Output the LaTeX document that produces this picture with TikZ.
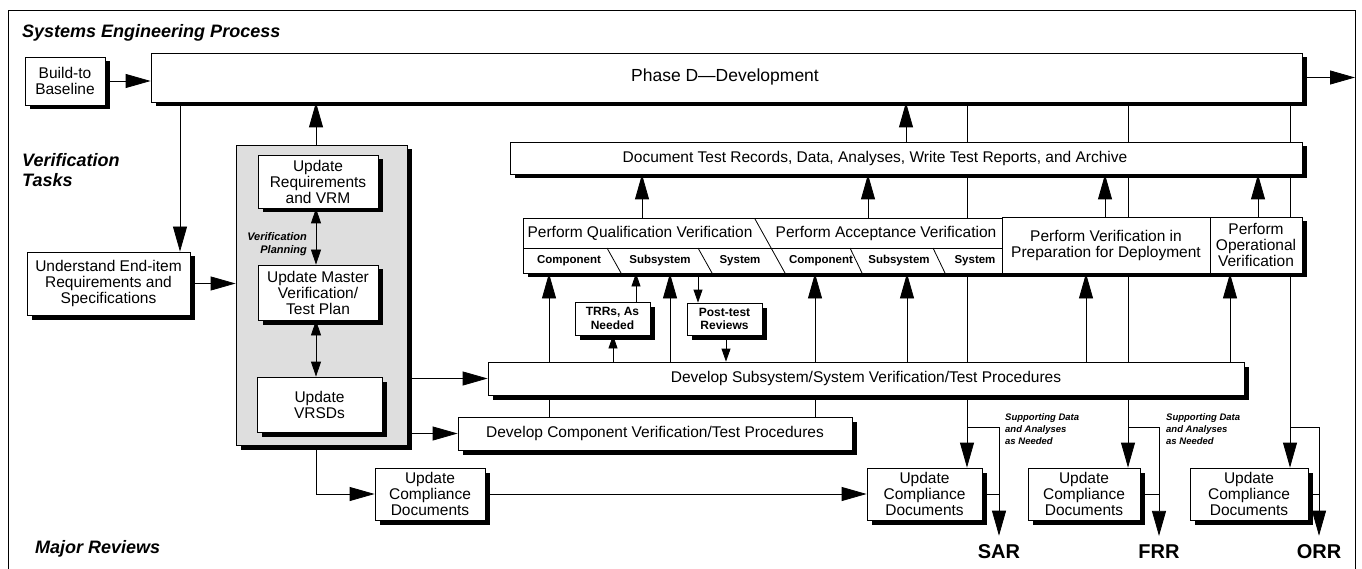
\documentclass[tikz,border=0pt]{standalone}
\usepackage{fontspec}
\setmainfont{Liberation Sans}
\usetikzlibrary{arrows.meta,shadows,backgrounds}
\newcommand\mainfs{\fontsize{15.5}{16}\selectfont}
\newcommand\bigfs{\fontsize{17.5}{18}\selectfont}
\newcommand\subfs{\fontsize{11.5}{13}\selectfont\bfseries}
\newcommand\smallbfs{\fontsize{12}{13.5}\selectfont\bfseries}
\newcommand\notefs{\fontsize{9.5}{12}\selectfont\bfseries\itshape}
\newcommand\vpfs{\fontsize{11}{13}\selectfont\bfseries\itshape}
\newcommand\ttlfs{\fontsize{18}{20}\selectfont\bfseries\itshape}
\newcommand\revfs{\fontsize{20}{22}\selectfont\bfseries}
\tikzset{
  box/.style={draw, line width=0.8pt, fill=white, inner sep=1pt, align=center, font=\mainfs,
    drop shadow={shadow xshift=4.5pt, shadow yshift=-4.5pt, fill=black, opacity=1}},
  ln/.style={line width=0.8pt},
  arr/.style={line width=0.8pt, -{Triangle[length=25pt,width=14pt]}},
  sarr/.style={line width=0.8pt, -{Triangle[length=13pt,width=9pt]}},
  dsarr/.style={line width=0.8pt, {Triangle[length=15pt,width=10pt]}-{Triangle[length=15pt,width=10pt]}},
  ttl/.style={font=\ttlfs, inner sep=0pt, anchor=west, align=left},
  rev/.style={font=\revfs, inner sep=0pt},
  note/.style={font=\notefs, inner sep=0pt, anchor=north west, align=left},
  sub/.style={font=\subfs, inner sep=0pt},
  txt/.style={font=\mainfs, inner sep=0pt}
}
\begin{document}
\begin{tikzpicture}[x=1pt,y=-1pt]
\useasboundingbox (0,0) rectangle (1362,569);
\draw[ln] (8,569) -- (8,10) -- (1355,10) -- (1355,569);

% titles
\node[ttl] (tsep) at (22,33) {Systems Engineering Process};
\node[ttl] (tvt) at (22,170) {Verification\\Tasks};
\node[ttl] (tmr) at (35,549) {Major Reviews};

% top row
\node[box, minimum width=80pt, minimum height=48pt] (build) at (65,81) {Build-to\\Baseline};
\node[box, minimum width=1151pt, minimum height=49pt] (phase) at (726.5,77.5) {};
\node[txt, font=\bigfs] (phtxt) at (725,77) {Phase D---Development};

% left
\node[box, minimum width=163pt, minimum height=63pt] (und) at (108.5,283.5) {Understand End-item\\Requirements and\\Specifications};

% verification planning panel
\node[box, fill=black!13, minimum width=171pt, minimum height=300pt] (panel) at (321.5,295) {};
\node[box, minimum width=120pt, minimum height=53pt] (ureq) at (318,181.5) {Update\\Requirements\\and VRM};
\node[box, minimum width=120pt, minimum height=55pt] (umas) at (318,292.5) {Update Master\\Verification/\\Test Plan};
\node[box, minimum width=125pt, minimum height=55pt] (uvrsd) at (319.5,404.5) {Update\\VRSDs};
\node[font=\vpfs, inner sep=0pt, anchor=east, align=right] (vp) at (307,244) {Verification\\Planning};

% document box
\node[box, minimum width=792pt, minimum height=32pt] (doc) at (906,158) {};
\node[txt] (doctxt) at (875,158) {Document Test Records, Data, Analyses, Write Test Reports, and Archive};

% qualification / acceptance
\node[box, minimum width=479pt, minimum height=55pt] (qa) at (762.5,245.5) {};
\draw[ln] (523,248) -- (1002,248);
\draw[ln] (755,219) -- (785,273);
\draw[ln] (607,248) -- (621,273);
\draw[ln] (698,248) -- (712,273);
\draw[ln] (850,248) -- (862,273);
\draw[ln] (933,248) -- (945,273);
\node[txt] (qtxt) at (640,233) {Perform Qualification Verification};
\node[txt] (atxt) at (886,233) {Perform Acceptance Verification};
\node[sub] (qc) at (569,261) {Component};
\node[sub] (qs) at (660,261) {Subsystem};
\node[sub] (qy) at (740,261) {System};
\node[sub] (ac) at (821,261) {Component};
\node[sub] (as) at (899,261) {Subsystem};
\node[sub] (ay) at (975,261) {System};
\node[box, minimum width=208pt, minimum height=56pt] (prep) at (1106,245) {Perform Verification in\\Preparation for Deployment};
\node[box, minimum width=92pt, minimum height=56pt] (oper) at (1256,245) {Perform\\Operational\\Verification};

% small review boxes
\node[box, font=\smallbfs, minimum width=75pt, minimum height=33pt] (trr) at (612.5,318.5) {TRRs, As\\Needed};
\node[box, font=\smallbfs, minimum width=75pt, minimum height=32pt] (post) at (724.5,319) {Post-test\\Reviews};

% procedures
\node[box, minimum width=756pt, minimum height=33pt] (dsub) at (866,378.5) {Develop Subsystem/System Verification/Test Procedures};
\node[box, minimum width=394pt, minimum height=33pt] (dcomp) at (655,433.5) {Develop Component Verification/Test Procedures};

% compliance documents
\node[box, minimum width=110pt, minimum height=52pt] (ucd1) at (430,494) {Update\\Compliance\\Documents};
\node[box, minimum width=115pt, minimum height=52pt] (ucd2) at (924.5,494) {Update\\Compliance\\Documents};
\node[box, minimum width=112pt, minimum height=52pt] (ucd3) at (1084,494) {Update\\Compliance\\Documents};
\node[box, minimum width=118pt, minimum height=52pt] (ucd4) at (1249,494) {Update\\Compliance\\Documents};

% reviews
\node[rev] (sar) at (999,552) {SAR};
\node[rev] (frr) at (1159,552) {FRR};
\node[rev] (orr) at (1319,552) {ORR};
\node[note] (sd1) at (1005,413) {Supporting Data\\and Analyses\\as Needed};
\node[note] (sd2) at (1166,413) {Supporting Data\\and Analyses\\as Needed};

% helper coordinates
\coordinate (xa) at (180,0);
\coordinate (xp) at (316,0);
\coordinate (xL1) at (967,0);
\coordinate (xL2) at (1128,0);
\coordinate (xL3) at (1290,0);
\coordinate (yb) at (0,427);
\coordinate (q1) at (642,0);
\coordinate (q2) at (868,0);
\coordinate (q3) at (1105,0);
\coordinate (q4) at (1258,0);
\coordinate (b1) at (549,0);
\coordinate (b2) at (670,0);
\coordinate (b3) at (815,0);
\coordinate (b4) at (907,0);
\coordinate (b5) at (1086,0);
\coordinate (b6) at (1230,0);
\coordinate (t1) at (613,0);
\coordinate (t2) at (636,0);
\coordinate (p1) at (698,0);
\coordinate (p2) at (726,0);
\coordinate (outR) at (1355,77.5);

% planning arrows (inside the grey panel, on top of it)
\draw[dsarr] (xp |- ureq.south) -- (xp |- umas.north);
\draw[dsarr] (xp |- umas.south) -- (xp |- uvrsd.north);

\begin{scope}[on background layer]
\draw[arr] (build.east) -- (build.east -| phase.west);
\draw[arr] (phase.east) -- (outR);
\draw[arr] (xa |- phase.south) -- (xa |- und.north);
\draw[arr] (und.east) -- (und.east -| panel.west);
\draw[arr] (xp |- panel.north) -- (xp |- phase.south);
\draw[arr] (panel.east |- dsub.west) -- (dsub.west);
\draw[arr] (panel.east |- dcomp.west) -- (dcomp.west);
\draw[arr] (xp |- panel.south) |- (ucd1.west);
\draw[arr] (ucd1.east) -- (ucd2.west);
\draw[arr] (doc.north) -- (doc.north |- phase.south);
% through lines to reviews
\draw[arr] (xL1 |- phase.south) -- (xL1 |- ucd2.north);
\draw[arr, shorten >=9pt] (xL1 |- yb) -| (sar.north);
\draw[ln] (ucd2.east) -- (ucd2.east -| sar.north);
\draw[arr] (xL2 |- phase.south) -- (xL2 |- ucd3.north);
\draw[arr, shorten >=9pt] (xL2 |- yb) -| (frr.north);
\draw[ln] (ucd3.east) -- (ucd3.east -| frr.north);
\draw[arr] (xL3 |- phase.south) -- (xL3 |- ucd4.north);
\draw[arr, shorten >=9pt] (xL3 |- yb) -| (orr.north);
\draw[ln] (ucd4.east) -- (ucd4.east -| orr.north);
% verification to document
\draw[arr] (q1 |- qa.north) -- (q1 |- doc.south);
\draw[arr] (q2 |- qa.north) -- (q2 |- doc.south);
\draw[arr] (q3 |- prep.north) -- (q3 |- doc.south);
\draw[arr] (q4 |- oper.north) -- (q4 |- doc.south);
% procedures to verification
\draw[arr] (b1 |- dcomp.north) -- (b1 |- qa.south);
\draw[arr] (b2 |- dsub.north) -- (b2 |- qa.south);
\draw[arr] (b3 |- dcomp.north) -- (b3 |- qa.south);
\draw[arr] (b4 |- dsub.north) -- (b4 |- qa.south);
\draw[arr] (b5 |- dsub.north) -- (b5 |- prep.south);
\draw[arr] (b6 |- dsub.north) -- (b6 |- oper.south);
% reviews
\draw[sarr] (t1 |- dsub.north) -- (t1 |- trr.south);
\draw[sarr] (t2 |- trr.north) -- (t2 |- qa.south);
\draw[sarr] (p1 |- qa.south) -- (p1 |- post.north);
\draw[sarr] (p2 |- post.south) -- (p2 |- dsub.north);
\end{scope}
\end{tikzpicture}
\end{document}
